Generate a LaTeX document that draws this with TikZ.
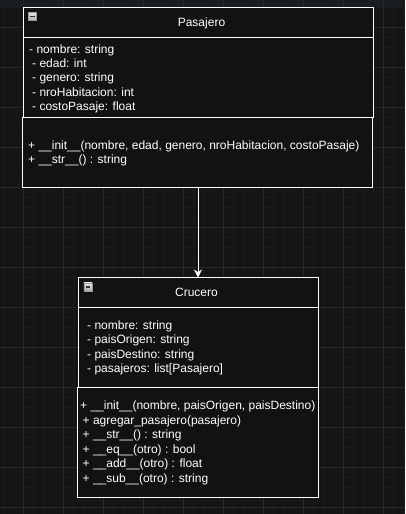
\documentclass[tikz,border=0pt]{standalone}
\usepackage{fontspec}
\setmainfont{Liberation Sans}
\usetikzlibrary{arrows.meta}
\definecolor{canvas}{HTML}{151515}
\definecolor{topband}{HTML}{1C1D1F}
\definecolor{gridminor}{HTML}{1B1B1B}
\definecolor{gridmajor}{HTML}{272727}
\definecolor{boxfill}{HTML}{121212}
\definecolor{iconlight}{HTML}{E6E6E6}
\definecolor{icondark}{HTML}{9A9A9A}
\tikzset{
  umlpart/.style={draw=white, line width=1pt, fill=boxfill, rectangle,
    anchor=north west, inner sep=0pt, outer sep=0pt},
  member/.style={text=white, anchor=base west, inner sep=0pt,
    font=\fontsize{12pt}{14pt}\selectfont},
  title/.style={text=white, anchor=base, inner sep=0pt,
    font=\fontsize{12pt}{14pt}\selectfont},
  toggle/.style={rectangle, draw=icondark, line width=0.6pt,
    top color=iconlight, bottom color=icondark!80,
    minimum width=8pt, minimum height=8pt, inner sep=0pt, anchor=north west},
  assoc/.style={draw=white, line width=1pt,
    -{Stealth[length=8pt, width=8pt, inset=2.5pt]}},
}
\newcommand{\togglebar}[1]{\draw[black!80, line width=1.4pt] ([xshift=-2.2pt]#1.center) -- ([xshift=2.2pt]#1.center);}
\begin{document}
\begin{tikzpicture}[x=1pt, y=-1pt]
  % canvas and grid
  \fill[canvas] (0,0) rectangle (405,514);
  \useasboundingbox (0,0) rectangle (405,514);
  \fill[topband] (0,0) rectangle (405,6.5);
  \foreach \gx in {3,13,...,403} \draw[gridminor, line width=0.6pt] (\gx,0) -- (\gx,514);
  \foreach \gy in {7,17,...,514} \draw[gridminor, line width=0.6pt] (0,\gy) -- (405,\gy);
  \foreach \gx in {23,63,...,403} \draw[gridmajor, line width=0.7pt] (\gx,0) -- (\gx,514);
  \foreach \gy in {27,67,...,514} \draw[gridmajor, line width=0.7pt] (0,\gy) -- (405,\gy);

  % class Pasajero
  \node[umlpart, minimum width=350pt, minimum height=30pt] (ph) at (23,7) {};
  \node[umlpart, minimum width=350pt, minimum height=80pt] (pa) at (23,37) {};
  \node[umlpart, minimum width=350pt, minimum height=70pt] (pm) at (22,117) {};
  \node[toggle] (pt) at (28,12) {};
  \togglebar{pt}
  \node[title] (pname) at (201.5,26) {Pasajero};
  \node[member] (pa1) at (29,53) {- nombre: string};
  \node[member] (pa2) at (32,67) {- edad: int};
  \node[member] (pa3) at (32,81.5) {- genero: string};
  \node[member] (pa4) at (32,96) {- nroHabitacion: int};
  \node[member] (pa5) at (32,110) {- costoPasaje: float};
  \node[member] (pm1) at (28,149) {+ \_\_init\_\_(nombre, edad, genero, nroHabitacion, costoPasaje)};
  \node[member] (pm2) at (28,163.5) {+ \_\_str\_\_() : string};

  % class Crucero
  \node[umlpart, minimum width=240pt, minimum height=30pt] (ch) at (78,277.5) {};
  \node[umlpart, minimum width=240pt, minimum height=80pt] (ca) at (78,307.5) {};
  \node[umlpart, minimum width=241pt, minimum height=110pt] (cm) at (77,387.5) {};
  \node[toggle] (ct) at (83.5,282.5) {};
  \togglebar{ct}
  \node[title] (cname) at (196.5,296) {Crucero};
  \node[member] (ca1) at (87,329.5) {- nombre: string};
  \node[member] (ca2) at (87,343.5) {- paisOrigen: string};
  \node[member] (ca3) at (87,358.5) {- paisDestino: string};
  \node[member] (ca4) at (87,372.5) {- pasajeros: list[Pasajero]};
  \node[member] (cm1) at (80,409.5) {+ \_\_init\_\_(nombre, paisOrigen, paisDestino)};
  \node[member] (cm2) at (82.5,424.5) {+ agregar\_pasajero(pasajero)};
  \node[member] (cm3) at (82.5,438.5) {+ \_\_str\_\_() : string};
  \node[member] (cm4) at (82.5,453.5) {+ \_\_eq\_\_(otro) : bool};
  \node[member] (cm5) at (82.5,467.5) {+ \_\_add\_\_(otro) : float};
  \node[member] (cm6) at (82.5,482) {+ \_\_sub\_\_(otro) : string};

  % association Pasajero -> Crucero
  \draw[assoc] (ch.north |- pm.south) -- (ch.north);
\end{tikzpicture}
\end{document}
